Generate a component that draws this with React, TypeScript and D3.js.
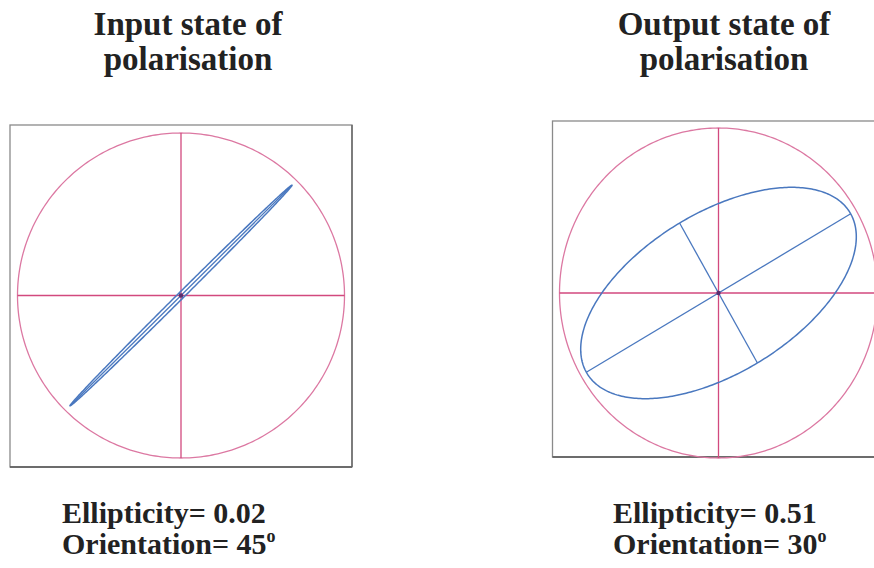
import React from "react";
import * as d3 from "d3";

// Polarisation states shown side by side
const panelTitles: string[][] = [
  ["Input state of", "polarisation"],
  ["Output state of", "polarisation"],
];
const ellipticity: number[] = [0.02, 0.51];
const orientationDeg: number[] = [45, 30];
// semi-major axis relative to the unit reference circle
const semiMajor: number[] = [0.96, 0.96];

// Panel layout (frame, reference circle centre and radii)
const frames = [
  { x: 10, y: 125, w: 342, h: 342 },
  { x: 552.5, y: 121, w: 342, h: 336 },
];
const circles = [
  { cx: 181, cy: 295.5, rx: 163.5, ry: 162.5 },
  { cx: 718.5, cy: 293, rx: 159, ry: 165 },
];
const titleX = [188, 724];
const labelX = [62, 613];

const BLUE = "#4a78bf";
const CROSS = "#d2497e";
const RING = "#dc78a2";
const INK = "#222";
const FONT = "'Liberation Serif', 'Times New Roman', serif";

function Panel({ i }: { i: number }) {
  const c = circles[i];
  const f = frames[i];
  const x = d3.scaleLinear().domain([-1, 1]).range([c.cx - c.rx, c.cx + c.rx]);
  const y = d3.scaleLinear().domain([-1, 1]).range([c.cy + c.ry, c.cy - c.ry]);

  const a = semiMajor[i];
  const b = a * ellipticity[i];
  const th = (orientationDeg[i] * Math.PI) / 180;

  const ts = d3.range(0, 2 * Math.PI, Math.PI / 180);
  const pts: [number, number][] = ts.map((t) => [
    a * Math.cos(t) * Math.cos(th) - b * Math.sin(t) * Math.sin(th),
    a * Math.cos(t) * Math.sin(th) + b * Math.sin(t) * Math.cos(th),
  ]);
  const ellipse = d3
    .line<[number, number]>()
    .x((d) => x(d[0]))
    .y((d) => y(d[1]))
    .curve(d3.curveLinearClosed)(pts) as string;

  const ring = d3
    .line<number>()
    .x((t) => x(Math.cos(t)))
    .y((t) => y(Math.sin(t)))
    .curve(d3.curveLinearClosed)(ts) as string;

  const major = [
    [-a * Math.cos(th), -a * Math.sin(th)],
    [a * Math.cos(th), a * Math.sin(th)],
  ];
  const minor = [
    [b * Math.sin(th), -b * Math.cos(th)],
    [-b * Math.sin(th), b * Math.cos(th)],
  ];

  return (
    <g>
      <rect x={f.x} y={f.y} width={f.w} height={f.h} fill="white" stroke="#8a8a8a" strokeWidth={1.3} />
      <line x1={f.x} x2={f.x + f.w} y1={f.y + f.h} y2={f.y + f.h} stroke="#555" strokeWidth={1.6} />
      <line x1={f.x + f.w} x2={f.x + f.w} y1={f.y} y2={f.y + f.h} stroke="#666" strokeWidth={1.4} />
      <path d={ring} fill="none" stroke={RING} strokeWidth={1.3} />
      <line x1={x(-1)} x2={x(1)} y1={y(0)} y2={y(0)} stroke={CROSS} strokeWidth={1.3} />
      <line x1={x(0)} x2={x(0)} y1={y(-1)} y2={y(1)} stroke={CROSS} strokeWidth={1.3} />
      <path d={ellipse} fill="none" stroke={BLUE} strokeWidth={1.5} />
      <line x1={x(major[0][0])} y1={y(major[0][1])} x2={x(major[1][0])} y2={y(major[1][1])} stroke={BLUE} strokeWidth={1.3} />
      <line x1={x(minor[0][0])} y1={y(minor[0][1])} x2={x(minor[1][0])} y2={y(minor[1][1])} stroke={BLUE} strokeWidth={1.3} />
      <circle cx={x(0)} cy={y(0)} r={2.2} fill="#5a2e6e" />

      <text x={titleX[i]} y={35} textAnchor="middle" fontFamily={FONT} fontWeight="bold" fontSize={33} fill={INK}>
        {panelTitles[i][0]}
      </text>
      <text x={titleX[i]} y={70} textAnchor="middle" fontFamily={FONT} fontWeight="bold" fontSize={33} fill={INK}>
        {panelTitles[i][1]}
      </text>

      <text x={labelX[i]} y={523} fontFamily={FONT} fontWeight="bold" fontSize={30} fill={INK}>
        {`Ellipticity= ${ellipticity[i].toFixed(2)}`}
      </text>
      <text x={labelX[i]} y={554} fontFamily={FONT} fontWeight="bold" fontSize={30} fill={INK}>
        {`Orientation= ${orientationDeg[i]}`}
        <tspan fontSize={18} dy={-12}>o</tspan>
      </text>
    </g>
  );
}

export default function App() {
  return (
    <svg
      width={874}
      height={568}
      viewBox="0 0 874 568"
      style={{ position: "absolute", left: 0, top: 0, background: "white", display: "block" }}
    >
      <rect width={874} height={568} fill="white" />
      {panelTitles.map((_, i) => (
        <Panel key={i} i={i} />
      ))}
    </svg>
  );
}
